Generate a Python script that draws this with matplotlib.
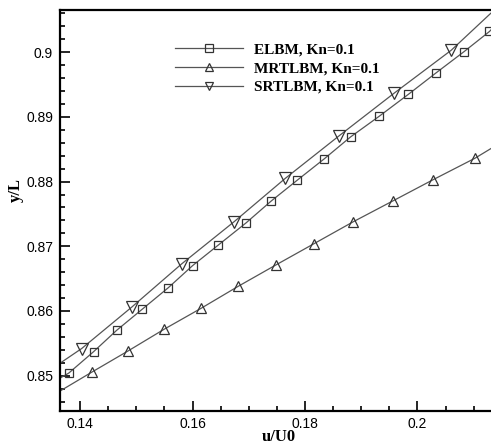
import numpy as np
import matplotlib
matplotlib.use("Agg")
from matplotlib import pyplot as plt
from matplotlib.ticker import MultipleLocator

# ELBM, Kn=0.1 (first and last values are where the line leaves the frame)
elbm_x = [0.1364, 0.1380, 0.1424, 0.1465, 0.1511, 0.1557, 0.1600, 0.1646, 0.1695,
          0.1740, 0.1786, 0.1834, 0.1881, 0.1932, 0.1984, 0.2033, 0.2083, 0.2128, 0.2140]
elbm_y = [0.8496, 0.8504, 0.8537, 0.8570, 0.8603, 0.8636, 0.8670, 0.8702, 0.8736,
          0.8770, 0.8802, 0.8835, 0.8869, 0.8901, 0.8935, 0.8968, 0.9001, 0.9032, 0.9043]

# MRTLBM, Kn=0.1
mrt_x = [0.1364, 0.1422, 0.1485, 0.1550, 0.1615, 0.1681, 0.1748, 0.1816, 0.1886,
         0.1956, 0.2028, 0.2102, 0.2140]
mrt_y = [0.8476, 0.8506, 0.8538, 0.8572, 0.8604, 0.8638, 0.8671, 0.8704, 0.8738,
         0.8770, 0.8803, 0.8836, 0.8856]

# SRTLBM, Kn=0.1
srt_x = [0.1364, 0.1403, 0.1492, 0.1581, 0.1674, 0.1765, 0.1861, 0.1959, 0.2060, 0.2140]
srt_y = [0.8519, 0.8542, 0.8606, 0.8673, 0.8738, 0.8805, 0.8871, 0.8937, 0.9003, 0.9068]

labels = ["ELBM, Kn=0.1", "MRTLBM, Kn=0.1", "SRTLBM, Kn=0.1"]

fig = plt.figure(figsize=(4.91, 4.46), dpi=100)
ax = fig.add_axes([60/491, 1-411/446, 1-60/491, (411-10)/446])

lc = "#555555"
mc = "#333333"
common = dict(color=lc, lw=0.9, mfc="none", mec=mc, mew=0.9, markevery=slice(1, -1))
ax.plot(elbm_x, elbm_y, marker="s", ms=6.3, label=labels[0], **common)
ax.plot(mrt_x, mrt_y, marker="^", ms=7.8, label=labels[1], **common)
ax.plot(srt_x, srt_y, marker="v", ms=8.3, label=labels[2], **common)

ax.set_xlim(0.13644, 0.21307)
ax.set_ylim(0.84454, 0.90652)

ax.xaxis.set_minor_locator(MultipleLocator(0.005))
ax.yaxis.set_minor_locator(MultipleLocator(0.002))
ax.set_xticks([0.14, 0.16, 0.18, 0.2])
ax.set_xticklabels(["0.14", "0.16", "0.18", "0.2"])
ax.set_yticks([0.85, 0.86, 0.87, 0.88, 0.89, 0.9])
ax.set_yticklabels(["0.85", "0.86", "0.87", "0.88", "0.89", "0.9"])

ax.tick_params(which="both", direction="in", top=False, right=False, width=1.2)
ax.tick_params(which="major", length=7.5, pad=5)
ax.tick_params(which="minor", length=3.8)
for lab in ax.get_xticklabels() + ax.get_yticklabels():
    lab.set_family("Liberation Sans")
    lab.set_fontsize(10)
ax.tick_params(axis="x", which="major", pad=4)

for s in ["left", "bottom", "top"]:
    ax.spines[s].set_linewidth(1.6)
ax.spines["right"].set_visible(False)

ax.set_xlabel("u/U0", family="Liberation Serif", fontweight="bold", fontsize=12)
ax.xaxis.set_label_coords((279-60)/431, -0.045)
ax.set_ylabel("y/L", family="Liberation Serif", fontweight="bold", fontsize=12)
ax.yaxis.set_label_coords(-0.085, 0.55)

leg = ax.legend(loc="upper left", bbox_to_anchor=((175-60)/431, (10-43)/401 + 1),
                frameon=False, handlelength=4.45, handletextpad=0.75, labelspacing=0.32,
                borderaxespad=0, borderpad=0,
                prop={"family": "Liberation Serif", "weight": "bold", "size": 11})
for h in leg.legend_handles:
    h.set_markersize(6)

fig.savefig("out.png", dpi=100)
